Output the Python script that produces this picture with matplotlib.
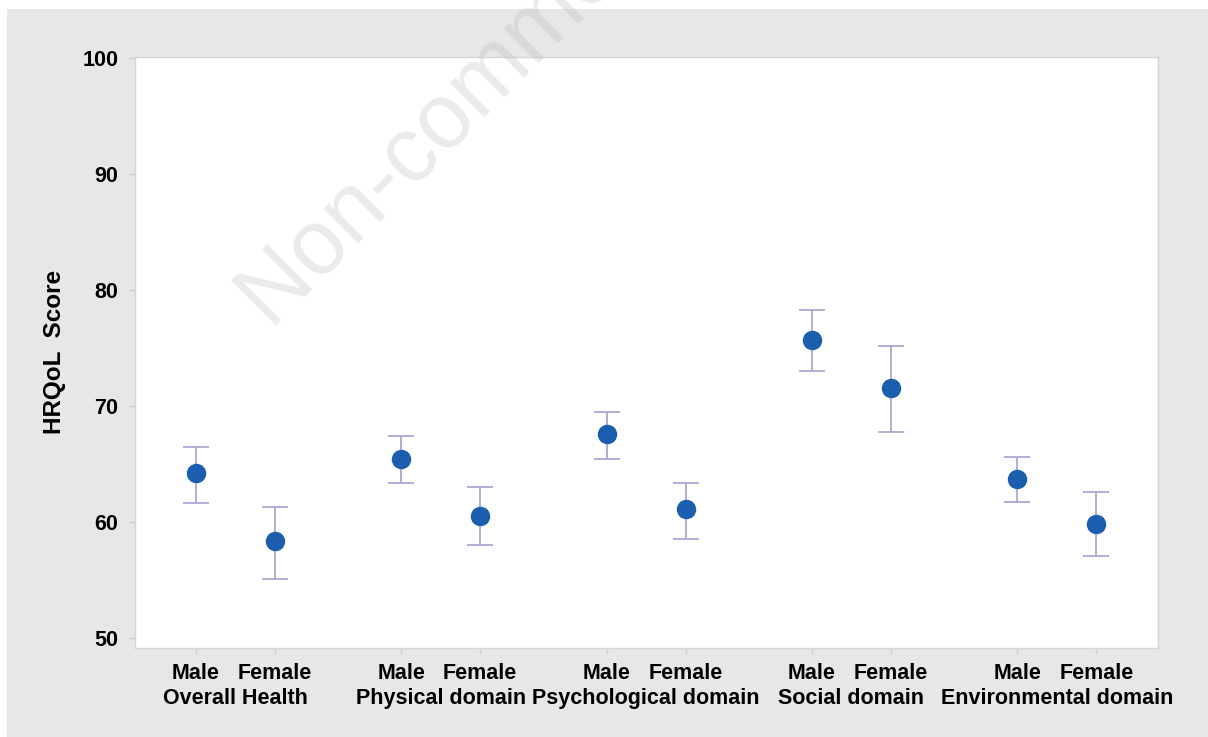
import numpy as np
import matplotlib
matplotlib.use('Agg')
import matplotlib.pyplot as plt
from matplotlib.patches import Rectangle
from matplotlib.transforms import blended_transform_factory

plt.rcParams['font.family'] = ['Liberation Sans', 'DejaVu Sans']

groups = ['Overall Health', 'Physical domain', 'Psychological domain', 'Social domain', 'Environmental domain']
sexes = ['Male', 'Female']

male_mean = [64.2, 65.4, 67.6, 75.7, 63.7]
male_low = [61.6, 63.4, 65.4, 73.0, 61.75]
male_high = [66.5, 67.4, 69.5, 78.3, 65.6]

female_mean = [58.4, 60.5, 61.1, 71.55, 59.8]
female_low = [55.1, 58.0, 58.5, 67.8, 57.1]
female_high = [61.3, 63.0, 63.4, 75.2, 62.6]

yticks = [50, 60, 70, 80, 90, 100]

W, H = 1208, 737
fig = plt.figure(figsize=(W / 100, H / 100), dpi=100)
fig.patch.set_facecolor('white')
# grey panel behind the chart (thin white strip on top / left)
fig.patches.append(Rectangle((7 / W, 0), 1, 1 - 9 / H, transform=fig.transFigure,
                             facecolor='#e6e8e7', edgecolor='none', zorder=-10))

ax = fig.add_axes([135 / W, 89 / H, (1158 - 135) / W, (648 - 57) / H])
ax.set_facecolor('white')

gap = 2.6
xm = np.arange(len(groups)) * gap
xf = xm + 1

mean = np.array(male_mean)
ax.errorbar(xm, mean, yerr=[mean - np.array(male_low), np.array(male_high) - mean],
            fmt='none', ecolor='#a3a3d2', elinewidth=1.2, capsize=9.5, capthick=1.2, zorder=2)
ax.plot(xm, mean, 'o', color='#1b5eae', markersize=13, zorder=3)

mean = np.array(female_mean)
ax.errorbar(xf, mean, yerr=[mean - np.array(female_low), np.array(female_high) - mean],
            fmt='none', ecolor='#a3a3d2', elinewidth=1.2, capsize=9.5, capthick=1.2, zorder=2)
ax.plot(xf, mean, 'o', color='#1b5eae', markersize=13, zorder=3)

ax.set_xlim(-0.77, xf[-1] + 0.78)
ax.set_ylim(49.14, 100.1)

ax.set_yticks(yticks)
ax.set_yticklabels([str(v) for v in yticks], fontsize=15.5, fontweight='bold')
xs = np.ravel(np.column_stack([xm, xf]))
ax.set_xticks(xs)
ax.set_xticklabels(sexes * len(groups), fontsize=15.5, fontweight='bold')
ax.tick_params(axis='both', length=4, color='#cfcfcf', width=1)
ax.tick_params(axis='y', pad=8)
ax.tick_params(axis='x', pad=7)

tr = blended_transform_factory(ax.transData, ax.transAxes)
for i, g in enumerate(groups):
    ax.text((xm[i] + xf[i]) / 2, -0.085, g, transform=tr, ha='center', va='center',
            fontsize=15.5, fontweight='bold')

for s in ax.spines.values():
    s.set_color('#d8d4d4')
    s.set_linewidth(1)

fig.text(54 / W, 1 - 352 / H, 'HRQoL  Score', rotation=90, ha='center', va='center',
         fontsize=17.5, fontweight='bold')

# watermark
fig.text(272 / W, 1 - 331 / H, 'Non-commercial use only', rotation=45, rotation_mode='anchor',
         ha='left', va='baseline', fontsize=66, color='#b0b0b0', alpha=0.25, zorder=10)

fig.savefig('out.png', dpi=100, facecolor=fig.get_facecolor())
